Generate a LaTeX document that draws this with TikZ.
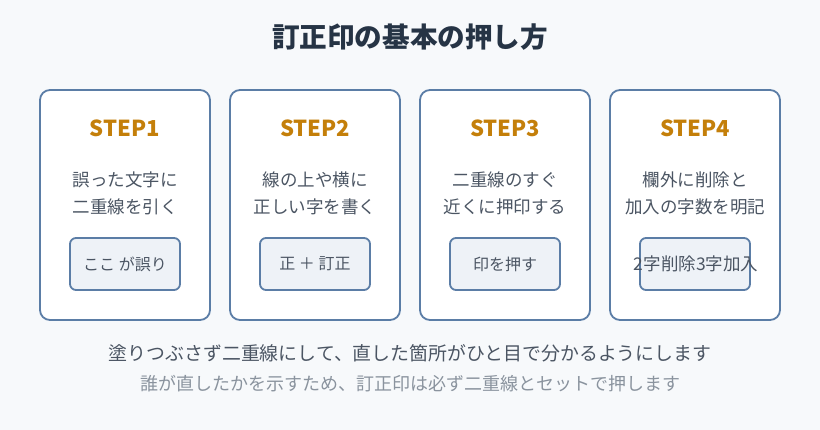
\documentclass[tikz,border=0pt]{standalone}
\usepackage{fontspec}
\setmainfont{Noto Sans CJK JP}
\definecolor{bg}{HTML}{F7F9FB}
\definecolor{cardline}{HTML}{5B7DA6}
\definecolor{stepc}{HTML}{C47F0A}
\definecolor{titlec}{HTML}{263445}
\definecolor{bodyc}{HTML}{4B5563}
\definecolor{notec}{HTML}{8A939E}
\definecolor{innerfill}{HTML}{EEF2F7}
\tikzset{
  card/.style={draw=cardline, line width=1.8pt, fill=white, rounded corners=10pt, minimum width=170pt, minimum height=230pt, inner sep=0pt},
  inner/.style={draw=cardline, line width=1.8pt, fill=innerfill, rounded corners=6pt, minimum width=110pt, minimum height=52pt, inner sep=0pt, text=bodyc, font=\fontsize{16}{18}\selectfont},
  steplabel/.style={text=stepc, font=\fontsize{22}{24}\selectfont\bfseries, inner sep=0pt},
  bodytxt/.style={text=bodyc, font=\fontsize{17.5}{20}\selectfont, inner sep=0pt},
}
\begin{document}
\begin{tikzpicture}[x=1pt,y=-1pt]
\fill[bg] (0,0) rectangle (820,430);
\useasboundingbox (0,0) rectangle (820,430);
\node[text=titlec, font=\fontsize{27.6}{30}\selectfont\bfseries, inner sep=0pt] (title) at (410,37) {訂正印の基本の押し方};

\foreach \i/\cx/\la/\lb/\bx in {1/125/誤った文字に/二重線を引く/ここ が誤り, 2/315/線の上や横に/正しい字を書く/正 ＋ 訂正, 3/505/二重線のすぐ/近くに押印する/印を押す}{
  \node[card] (card\i) at (\cx,205) {};
  \node[steplabel] (step\i) at (\cx,128) {STEP\i};
  \node[bodytxt] (la\i) at (\cx,180) {\la};
  \node[bodytxt] (lb\i) at (\cx,207) {\lb};
  \node[inner] (box\i) at (\cx,264) {\bx};
}
\node[card] (card4) at (695,205) {};
\node[steplabel] (step4) at (695,128) {STEP4};
\node[bodytxt] (la4) at (695,180) {欄外に削除と};
\node[bodytxt] (lb4) at (695,207) {加入の字数を明記};
\node[inner] (box4) at (695,264) {};
\node[text=bodyc, font=\fontsize{17.5}{20}\selectfont, inner sep=0pt] (bx4) at (696,264) {2字削除3字加入};

\node[text=bodyc, font=\fontsize{18.9}{21}\selectfont, inner sep=0pt] (note1) at (410,353) {塗りつぶさず二重線にして、直した箇所がひと目で分かるようにします};
\node[text=notec, font=\fontsize{18}{20}\selectfont, inner sep=0pt] (note2) at (410,384) {誰が直したかを示すため、訂正印は必ず二重線とセットで押します};
\end{tikzpicture}
\end{document}
